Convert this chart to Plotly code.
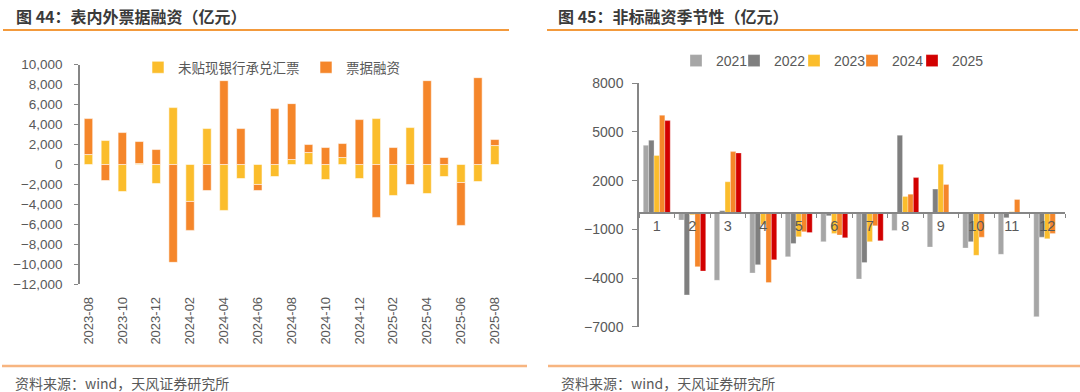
import plotly.graph_objects as go

# ---------------- data: left chart (图44) ----------------
months = ["2023-08", "2023-09", "2023-10", "2023-11", "2023-12",
          "2024-01", "2024-02", "2024-03", "2024-04", "2024-05", "2024-06",
          "2024-07", "2024-08", "2024-09", "2024-10", "2024-11", "2024-12",
          "2025-01", "2025-02", "2025-03", "2025-04", "2025-05", "2025-06",
          "2025-07", "2025-08"]
undiscounted = [1000, 2400, -2700, 100, -1900,
                5700, -3700, 3600, -4600, -1400, -2000,
                -1200, 500, 1200, -1500, 700, -1400,
                4600, -3100, 3700, -2900, -1200, -1800,
                -1700, 1900]
bill_financing = [3600, -1600, 3200, 2200, 1500,
                  -9800, -2900, -2600, 8400, 3600, -600,
                  5600, 5600, 800, 1700, 1400, 4500,
                  -5300, 1700, -2000, 8400, 700, -4300,
                  8700, 600]

# ---------------- data: right chart (图45) ----------------
month_nums = ["1", "2", "3", "4", "5", "6", "7", "8", "9", "10", "11", "12"]
years = ["2021", "2022", "2023", "2024", "2025"]
v2021 = [4180, -430, -4140, -3690, -2690, -1760, -4060, -1070, -2090, -2150, -2540, -6380]
v2022 = [4490, -5040, 140, -3180, -1870, -170, -3050, 4800, 1480, -1760, -290, -1480]
v2023 = [3550, -100, 1930, -700, -1460, -1250, -1760, 1030, 3010, -2600, 80, -1580]
v2024 = [6030, -3300, 3790, -4280, -1150, -1350, -780, 1170, 1760, -1480, 840, -1250]
v2025 = [5700, -3570, 3710, -2870, -1200, -1520, -1700, 2190, None, None, None, None]
year_values = [v2021, v2022, v2023, v2024, v2025]

# ---------------- styles ----------------
YELLOW = "#FBBD2C"
ORANGE = "#F5862A"
year_colors = ["#A6A6A6", "#7F7F7F", YELLOW, ORANGE, "#D20000"]
TXT = "#595959"
AXC = "#868686"
FONT = "Liberation Sans, Arial, Noto Sans CJK SC"
CJK = "Noto Sans CJK SC, Liberation Sans"
W, H = 1080, 392

def px_x(p):
    return p / W

def px_y(p):
    return 1 - p / H

# domains (paper fractions)
L_X = [px_x(80), px_x(503.3)]
L_Y = [px_y(284.3), px_y(64.7)]
R_X = [px_x(639), px_x(1065)]
R_Y = [px_y(326.7), px_y(83.3)]
L_RANGE = [-12000, 10000]
R_RANGE = [-7000, 8000]
l_zero = L_Y[0] + (0 - L_RANGE[0]) / (L_RANGE[1] - L_RANGE[0]) * (L_Y[1] - L_Y[0])
r_zero = R_Y[0] + (0 - R_RANGE[0]) / (R_RANGE[1] - R_RANGE[0]) * (R_Y[1] - R_Y[0])

idx = list(range(len(months)))
# relative stacking: second series sits on first when same sign
bill_base = [u if (u >= 0) == (b >= 0) else 0 for u, b in zip(undiscounted, bill_financing)]

fig = go.Figure()
edge = dict(color="rgba(255,255,255,0.55)", width=1)
fig.add_trace(go.Bar(x=idx, y=undiscounted, name="未贴现银行承兑汇票",
                     marker=dict(color=YELLOW, line=edge), width=0.5,
                     offsetgroup="L", xaxis="x", yaxis="y", legend="legend"))
fig.add_trace(go.Bar(x=idx, y=bill_financing, base=bill_base, name="票据融资",
                     marker=dict(color=ORANGE, line=edge), width=0.5,
                     offsetgroup="L", xaxis="x", yaxis="y", legend="legend"))

# one legend box per year so each entry sits where the original places it
year_legend_x = [697, 755, 815, 873, 933]
year_legends = {}
for k, (yr, vals, col, lx) in enumerate(zip(years, year_values, year_colors, year_legend_x)):
    lname = "legend%d" % (k + 2)
    fig.add_trace(go.Bar(x=month_nums, y=vals, name=yr,
                         marker=dict(color=col, line=dict(color="rgba(255,255,255,0.5)", width=0.6)),
                         xaxis="x2", yaxis="y2", legend=lname))
    year_legends[lname] = dict(orientation="h", x=px_x(lx - 21), y=px_y(45),
                               xanchor="left", yanchor="top",
                               font=dict(size=14, color=TXT, family=FONT),
                               bgcolor="rgba(0,0,0,0)", itemclick=False)

n = len(months)
fig.update_layout(
    width=W, height=H,
    margin=dict(l=0, r=0, t=0, b=0, autoexpand=False),
    paper_bgcolor="white", plot_bgcolor="white",
    barmode="group", bargap=0.24, bargroupgap=0,
    font=dict(family=FONT, size=13, color=TXT),
    showlegend=True,
    # left chart: labels axis at bottom
    xaxis=dict(domain=L_X, anchor="y", range=[-0.5, n - 0.5],
               tickmode="array", tickvals=idx[::2], ticktext=months[::2],
               tickangle=-90, ticks="", showline=False, showgrid=False, zeroline=False,
               ticklabelstandoff=9, tickfont=dict(size=13, color=TXT, family=FONT)),
    # left chart: axis line at zero with boundary ticks
    xaxis3=dict(domain=L_X, anchor="free", position=l_zero, overlaying="x",
                range=[-0.5, n - 0.5], tickmode="array",
                tickvals=[i + 0.5 for i in range(1, n - 1, 2)],
                showticklabels=False, ticks="outside", ticklen=5, tickcolor=AXC,
                showline=True, linecolor=AXC, linewidth=1.5, showgrid=False, zeroline=False),
    yaxis=dict(domain=L_Y, anchor="x", range=L_RANGE, dtick=2000, tick0=0,
               tickformat=",d", showline=True, linecolor=AXC, linewidth=1.5,
               ticks="outside", ticklen=4, tickcolor=AXC, showgrid=False, zeroline=False,
               ticklabelstandoff=9,
               tickfont=dict(size=13.5, color=TXT, family=FONT)),
    # right chart
    xaxis2=dict(domain=R_X, anchor="free", position=r_zero, type="category",
                tickson="boundaries", ticks="outside", ticklen=4, tickcolor=AXC,
                showline=True, linecolor=AXC, linewidth=1.5, showgrid=False, zeroline=False,
                tickfont=dict(size=14.5, color=TXT, family=FONT)),
    yaxis2=dict(domain=R_Y, anchor="x2", range=R_RANGE, dtick=3000, tick0=-7000,
                tickformat="d", showline=True, linecolor=AXC, linewidth=1.5,
                ticks="outside", ticklen=5, tickcolor=AXC, showgrid=False, zeroline=False,
                ticklabelstandoff=6,
                tickfont=dict(size=14, color=TXT, family=FONT)),
    legend=dict(orientation="h", x=px_x(138), y=px_y(52), xanchor="left", yanchor="top",
                font=dict(size=13.5, color=TXT, family=CJK), bgcolor="rgba(0,0,0,0)",
                entrywidth=123, entrywidthmode="pixels", itemclick=False),
    **year_legends,
)

title_font = dict(family=CJK, size=16, color="#3A3A3A")
src_font = dict(family=CJK, size=14, color=TXT)
fig.add_annotation(text="<b>图 44：表内外票据融资（亿元）</b>", x=px_x(14), y=px_y(16),
                   xref="paper", yref="paper", xanchor="left", yanchor="middle",
                   showarrow=False, font=title_font)
fig.add_annotation(text="<b>图 45：非标融资季节性（亿元）</b>", x=px_x(556), y=px_y(16),
                   xref="paper", yref="paper", xanchor="left", yanchor="middle",
                   showarrow=False, font=title_font)
fig.add_annotation(text="资料来源：wind，天风证券研究所", x=px_x(13), y=px_y(383),
                   xref="paper", yref="paper", xanchor="left", yanchor="middle",
                   showarrow=False, font=src_font)
fig.add_annotation(text="资料来源：wind，天风证券研究所", x=px_x(559), y=px_y(383),
                   xref="paper", yref="paper", xanchor="left", yanchor="middle",
                   showarrow=False, font=src_font)

top_line = dict(color="#F39A3C", width=2)
bot_line = dict(color="#F7B580", width=2.5)
fig.add_shape(type="line", xref="paper", yref="paper", x0=px_x(3), x1=px_x(509),
              y0=px_y(30), y1=px_y(30), line=top_line)
fig.add_shape(type="line", xref="paper", yref="paper", x0=px_x(547), x1=px_x(1078),
              y0=px_y(30), y1=px_y(30), line=top_line)
fig.add_shape(type="line", xref="paper", yref="paper", x0=px_x(2), x1=px_x(527),
              y0=px_y(366), y1=px_y(366), line=bot_line)
fig.add_shape(type="line", xref="paper", yref="paper", x0=px_x(548), x1=px_x(1080),
              y0=px_y(366), y1=px_y(366), line=bot_line)

fig.write_html("out.html", config={"displayModeBar": False},
               post_script="document.body.style.margin='0';")
